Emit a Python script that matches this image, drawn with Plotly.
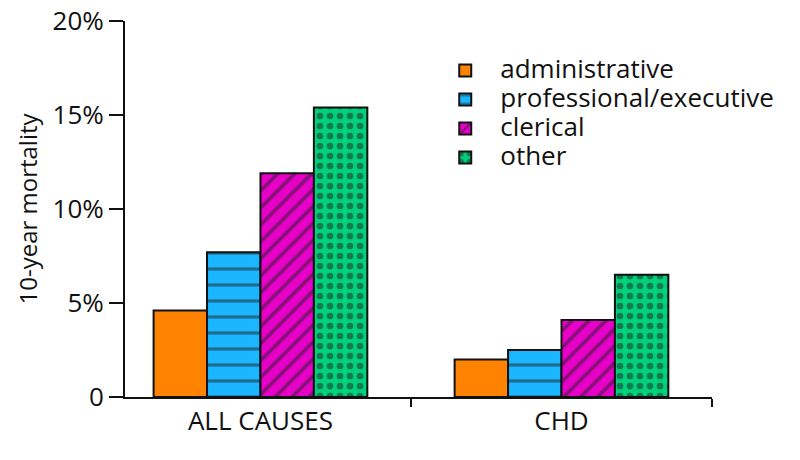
import plotly.graph_objects as go

causes = ["ALL CAUSES", "CHD"]
groups = ["administrative", "professional/executive", "clerical", "other"]
administrative = [4.6, 2.0]
professional = [7.7, 2.5]
clerical = [11.9, 4.1]
other = [15.4, 6.5]
y_ticks = [0, 5, 10, 15, 20]
y_tick_text = ["0", "5%", "10%", "15%", "20%"]

series = [administrative, professional, clerical, other]
colors = ["#ff8300", "#1ab6ff", "#e600c8", "#00d27c"]
shapes = ["", "-", "/", "."]
sizes = [10, 16, 12, 10]
solidity = [0.3, 0.2, 0.3, 0.35]

fig = go.Figure()
for name, values, color, shape, size, sol in zip(groups, series, colors, shapes, sizes, solidity):
    fig.add_trace(go.Bar(
        x=causes,
        y=values,
        # bigger text than the legend font keeps the rows tight
        name='<span style="font-size:26px">%s</span>' % name,
        marker=dict(
            color=color,
            line=dict(color="#111111", width=2),
            pattern=dict(shape=shape, fgcolor="#222222", size=size, solidity=sol),
        ),
    ))

# page body shifts the figure by 8px, margins are trimmed to make up for it
fig.update_layout(
    width=800,
    height=460,
    barmode="group",
    bargap=0.29,
    bargroupgap=0,
    plot_bgcolor="white",
    paper_bgcolor="white",
    font=dict(family="Open Sans", size=26, color="#111111"),
    margin=dict(l=117, r=96, t=13, b=71),
    legend=dict(
        x=0.52, y=0.92, xanchor="left", yanchor="top",
        font=dict(size=20), tracegroupgap=0, itemwidth=60,
    ),
    xaxis=dict(
        type="category",
        range=[-0.45, 1.5],
        showline=True, linecolor="#111111", linewidth=2,
        ticks="outside", tickson="boundaries", ticklen=8, tickwidth=2, tickcolor="#111111",
        showgrid=False, automargin=False, ticklabeloverflow="allow",
    ),
    yaxis=dict(
        range=[0, 20],
        tickvals=y_ticks, ticktext=y_tick_text,
        showline=True, linecolor="#111111", linewidth=2,
        ticks="outside", ticklen=14, tickwidth=2, tickcolor="#111111",
        showgrid=False, zeroline=False, automargin=False, ticklabeloverflow="allow",
        title=dict(text="10-year mortality", font=dict(size=24), standoff=8),
    ),
)

fig.write_html("out.html")
